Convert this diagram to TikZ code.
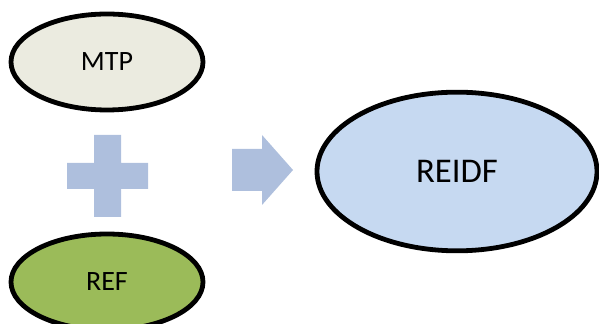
\documentclass[tikz,border=0pt]{standalone}
\usepackage{fontspec}
\setmainfont{Carlito}
\usetikzlibrary{shapes.geometric}
\definecolor{mtpfill}{HTML}{EBEBE0}
\definecolor{reffill}{HTML}{9BBB59}
\definecolor{reidffill}{HTML}{C6D9F1}
\definecolor{opfill}{HTML}{AEBFDD}
\begin{document}
\begin{tikzpicture}[x=0.75pt,y=0.75pt]
    \tikzset{oval/.style={draw,ellipse,line width=3.6pt,inner sep=0pt,font=\fontsize{21}{24}\selectfont}}
    \useasboundingbox (0,0) rectangle (599,324);
    \node[oval,fill=mtpfill,minimum width=144pt,minimum height=72pt] (mtp) at (107,262) {MTP};
    \node[oval,fill=reffill,minimum width=144pt,minimum height=72pt] (ref) at (107,42) {REF};
    \node[oval,fill=reidffill,minimum width=210pt,minimum height=119pt,font=\fontsize{26}{30}\selectfont] (reidf) at (457,152.5) {REIDF};
    % plus sign
    \fill[opfill] (94,107) -- (121,107) -- (121,135) -- (148,135) -- (148,161) -- (121,161)
        -- (121,189) -- (94,189) -- (94,161) -- (67,161) -- (67,135) -- (94,135) -- cycle;
    % block arrow
    \fill[opfill] (232,133) -- (262,133) -- (262,119) -- (293,154) -- (262,189) -- (262,175)
        -- (232,175) -- cycle;
\end{tikzpicture}
\end{document}
